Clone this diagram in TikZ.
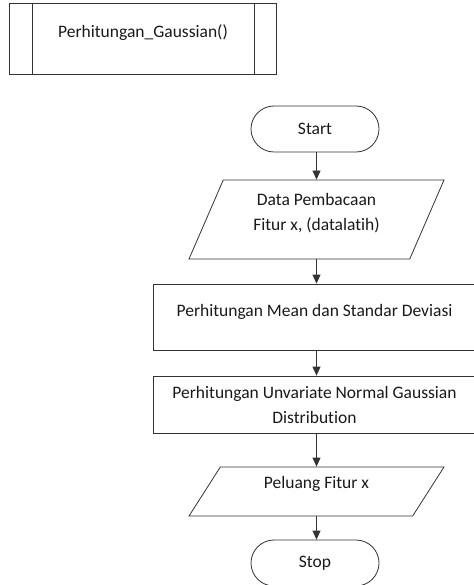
\documentclass[tikz,border=0pt]{standalone}
\usepackage{fontspec}
\setmainfont{Carlito}[Ligatures=NoCommon]
\usetikzlibrary{arrows.meta}
\usetikzlibrary{shapes.geometric,shapes.misc}

\begin{document}
\begin{tikzpicture}[x=1pt,y=-1pt,
	every node/.style={font=\fontsize{17.5}{25}\selectfont, text=black!90},
	line/.style={draw=black!80, line width=0.8pt},
	term/.style={line, rounded rectangle, minimum width=128pt, minimum height=46pt, inner sep=0pt},
	io/.style={line, trapezium, trapezium stretches body, minimum width=255pt, inner sep=0pt, align=center},
	proc/.style={line, rectangle, minimum width=323pt, inner sep=0pt, align=center},
	subproc/.style={line, rectangle, minimum width=267pt, minimum height=71pt, inner sep=0pt,
		path picture={
			\draw[black!80, line width=0.8pt]
				([xshift=22.5pt]path picture bounding box.north west) -- ([xshift=22.5pt]path picture bounding box.south west)
				([xshift=-22.5pt]path picture bounding box.north east) -- ([xshift=-22.5pt]path picture bounding box.south east);
		}},
	flow/.style={line, -{Triangle[length=9pt,width=8pt]}}
	]

	\useasboundingbox (0,0) rectangle (473,585);

	% subroutine header and its flow
	\node[subproc, text depth=16pt] (g) at (143,39) {Perhitungan\_Gaussian()};

	\node[term] (s) at (315,129) {Start};
	\node[io, minimum height=79pt, trapezium left angle=57.2, trapezium right angle=122.8, text depth=16pt] (d) at (316.5,219.5) {Data Pembacaan\\Fitur x, (datalatih)};
	\node[proc, minimum height=66pt, text depth=14pt] (m) at (314.5,317) {Perhitungan Mean dan Standar Deviasi};
	\node[proc, minimum height=57pt] (u) at (314.5,404.5) {Perhitungan Unvariate Normal Gaussian\\Distribution};
	\node[io, minimum height=49pt, trapezium left angle=43.9, trapezium right angle=136.1, text depth=18pt] (p) at (316.5,491.5) {Peluang Fitur x};
	\node[term] (e) at (315,563) {Stop};

	\coordinate (ax) at (316.5,0);
	\draw[flow] (ax |- s.south) -- (ax |- d.north);
	\draw[flow] (ax |- d.south) -- (ax |- m.north);
	\draw[flow] (ax |- m.south) -- (ax |- u.north);
	\draw[flow] (ax |- u.south) -- (ax |- p.north);
	\draw[flow] (ax |- p.south) -- (ax |- e.north);

\end{tikzpicture}
\end{document}
